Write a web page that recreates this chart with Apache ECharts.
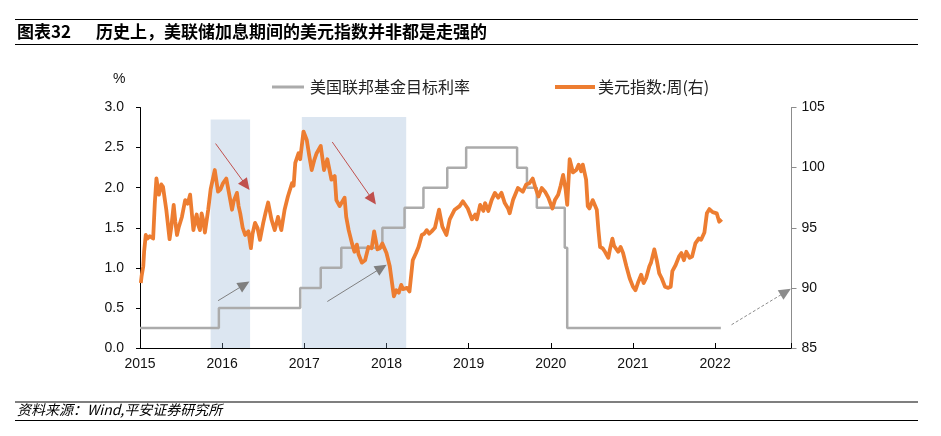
<!DOCTYPE html>
<html>
<head>
<meta charset="utf-8">
<script src="https://cdn.jsdelivr.net/npm/echarts@6/dist/echarts.min.js"></script>
<style>
  html, body { margin: 0; padding: 0; background: #fff; }
  #box { width: 941px; height: 436px; }
</style>
</head>
<body>
<div id="box"></div>
<script>
// 美国联邦基金目标利率(上限)，[年份(小数), %]
const fedRate = [
  [2015.00, 0.25], [2015.96, 0.5], [2016.95, 0.75], [2017.20, 1.0],
  [2017.45, 1.25], [2017.95, 1.5], [2018.22, 1.75], [2018.45, 2.0],
  [2018.74, 2.25], [2018.97, 2.5], [2019.59, 2.25], [2019.71, 2.0],
  [2019.83, 1.75], [2020.17, 1.25], [2020.20, 0.25], [2022.07, 0.25]
];

// 美元指数:周，[年份(小数), 指数]
const dxy = [
  [2015.01, 90.4], [2015.02, 91.0], [2015.04, 91.8], [2015.05, 93.0], [2015.07, 94.4],
  [2015.09, 94.1], [2015.12, 94.3], [2015.16, 94.1], [2015.18, 97.0], [2015.20, 99.1],
  [2015.23, 97.75], [2015.26, 98.6], [2015.28, 98.4], [2015.32, 96.5], [2015.36, 94.05],
  [2015.38, 95.0], [2015.41, 96.9], [2015.43, 95.5], [2015.45, 94.4], [2015.47, 95.0],
  [2015.51, 95.9], [2015.55, 97.3], [2015.58, 97.0], [2015.61, 97.75], [2015.65, 94.8],
  [2015.67, 95.6], [2015.69, 96.1], [2015.71, 95.2], [2015.73, 94.8], [2015.75, 96.2],
  [2015.77, 95.6], [2015.79, 94.6], [2015.83, 96.5], [2015.86, 98.2], [2015.91, 99.8],
  [2015.95, 98.0], [2015.98, 98.2], [2016.01, 98.7], [2016.05, 99.1], [2016.08, 98.0],
  [2016.12, 96.5], [2016.14, 97.2], [2016.18, 97.9], [2016.20, 96.8], [2016.22, 96.2],
  [2016.25, 95.0], [2016.28, 94.4], [2016.32, 94.7], [2016.35, 93.3], [2016.37, 94.5],
  [2016.40, 95.4], [2016.43, 95.0], [2016.46, 94.0], [2016.50, 95.4], [2016.53, 96.3],
  [2016.56, 97.1], [2016.60, 95.7], [2016.64, 94.8], [2016.68, 95.9], [2016.72, 94.8],
  [2016.76, 96.5], [2016.80, 97.6], [2016.85, 98.7], [2016.87, 98.5], [2016.89, 100.4],
  [2016.93, 101.2], [2016.95, 100.7], [2016.99, 103.0], [2017.03, 102.3], [2017.06, 101.0],
  [2017.09, 99.8], [2017.12, 100.6], [2017.15, 101.2], [2017.20, 101.8], [2017.24, 99.8],
  [2017.28, 100.7], [2017.33, 99.0], [2017.37, 99.3], [2017.39, 97.3], [2017.43, 96.8],
  [2017.49, 97.5], [2017.51, 95.9], [2017.54, 94.8], [2017.58, 93.7], [2017.61, 93.0],
  [2017.64, 93.6], [2017.66, 92.8], [2017.70, 92.1], [2017.74, 92.3], [2017.78, 93.4],
  [2017.82, 93.3], [2017.85, 94.7], [2017.89, 93.2], [2017.92, 93.3], [2017.95, 93.7],
  [2018.00, 92.9], [2018.04, 91.8], [2018.07, 90.3], [2018.09, 89.3], [2018.12, 89.8],
  [2018.15, 89.6], [2018.18, 90.25], [2018.20, 89.9], [2018.22, 89.8], [2018.25, 90.0],
  [2018.28, 89.7], [2018.32, 92.3], [2018.36, 92.9], [2018.39, 93.4], [2018.43, 94.4],
  [2018.46, 94.5], [2018.49, 94.8], [2018.52, 94.5], [2018.55, 94.7], [2018.59, 95.0],
  [2018.64, 96.5], [2018.68, 95.1], [2018.73, 94.4], [2018.77, 95.7], [2018.83, 96.5],
  [2018.89, 96.8], [2018.93, 97.2], [2018.95, 97.3], [2018.99, 96.6], [2019.04, 95.7],
  [2019.08, 96.1], [2019.10, 95.7], [2019.14, 96.9], [2019.18, 96.4], [2019.20, 97.05],
  [2019.24, 96.4], [2019.28, 97.3], [2019.32, 97.9], [2019.36, 97.5], [2019.40, 97.9],
  [2019.44, 97.05], [2019.48, 96.6], [2019.50, 96.2], [2019.54, 97.3], [2019.60, 98.3],
  [2019.66, 98.0], [2019.70, 98.6], [2019.74, 98.7], [2019.78, 99.1], [2019.81, 98.4],
  [2019.85, 97.6], [2019.89, 98.3], [2019.93, 98.0], [2019.97, 97.5], [2020.02, 96.6],
  [2020.05, 97.3], [2020.09, 97.75], [2020.12, 98.5], [2020.15, 99.4], [2020.18, 98.2],
  [2020.20, 96.9], [2020.23, 100.7], [2020.27, 99.6], [2020.31, 99.8], [2020.34, 100.25],
  [2020.37, 99.7], [2020.39, 100.25], [2020.43, 99.0], [2020.45, 96.8], [2020.47, 96.6],
  [2020.51, 97.3], [2020.56, 96.5], [2020.58, 94.8], [2020.60, 93.4], [2020.63, 93.3],
  [2020.66, 93.0], [2020.70, 92.5], [2020.72, 93.2], [2020.75, 94.1], [2020.77, 93.5],
  [2020.79, 93.6], [2020.82, 93.0], [2020.85, 93.4], [2020.88, 92.9], [2020.92, 91.8],
  [2020.96, 90.8], [2021.00, 90.1], [2021.03, 89.8], [2021.06, 90.4], [2021.10, 91.1],
  [2021.13, 90.4], [2021.16, 90.8], [2021.20, 91.8], [2021.22, 92.1], [2021.26, 93.2],
  [2021.29, 92.3], [2021.32, 91.2], [2021.35, 90.8], [2021.39, 90.1], [2021.43, 90.0],
  [2021.46, 90.1], [2021.48, 91.4], [2021.52, 91.9], [2021.56, 92.6], [2021.59, 92.9],
  [2021.62, 92.3], [2021.65, 93.0], [2021.69, 92.5], [2021.72, 92.6], [2021.76, 93.7],
  [2021.80, 94.1], [2021.83, 94.0], [2021.87, 94.6], [2021.90, 96.2], [2021.93, 96.55],
  [2021.97, 96.3], [2022.02, 96.2], [2022.05, 95.5], [2022.08, 95.7]
];

// 加息阶段阴影 [起, 止, 顶(左轴)]
const hikePeriods = [
  [2015.86, 2016.34, 2.85],
  [2016.97, 2018.24, 2.88]
];

// 箭头 [起点年份, 起点值, 终点年份, 终点值]（左轴单位）
const redArrows = [
  [2015.92, 2.55, 2016.29, 2.03],
  [2017.34, 2.57, 2017.83, 1.85]
];
const grayArrows = [
  [2015.95, 0.59, 2016.27, 0.79],
  [2017.28, 0.58, 2017.94, 1.0]
];
const dashArrows = [
  [2022.20, 0.29, 2022.86, 0.70]
];

const yearTicks = ["2015", "2016", "2017", "2018", "2019", "2020", "2021", "2022"];

const FONT = "Liberation Sans, Arial, Noto Sans CJK SC, sans-serif";

function arrowData(list, color, type) {
  return list.map(function (a) {
    return [
      { coord: [a[0], a[1]], lineStyle: { color: color, width: 1, type: type }, itemStyle: { color: color } },
      { coord: [a[2], a[3]] }
    ];
  });
}

var myChart = echarts.init(document.getElementById("box"));

myChart.setOption({
  animation: false,
  textStyle: { fontFamily: FONT },
  grid: { left: 140, right: 149.5, top: 107.5, bottom: 88 },
  legend: [
    {
      data: [{ name: "美国联邦基金目标利率", icon: "rect" }],
      left: 267, top: 74,
      itemWidth: 32, itemHeight: 3, itemGap: 6,
      textStyle: { fontSize: 16, color: "#222", fontFamily: "Noto Sans CJK SC", padding: [0, 0, 0, 1] }
    },
    {
      data: [{ name: "美元指数:周(右)", icon: "rect" }],
      left: 550, top: 74,
      itemWidth: 40, itemHeight: 4,
      textStyle: { fontSize: 16, color: "#222", fontFamily: "Noto Sans CJK SC", padding: [0, 0, 0, -2] }
    }
  ],
  xAxis: {
    type: "value",
    min: 2015, max: 2022.93, interval: 1,
    splitLine: { show: false },
    axisLine: { show: true, lineStyle: { color: "#000", width: 1 } },
    axisTick: { show: true, inside: true, length: 5, lineStyle: { color: "#000" } },
    axisLabel: {
      fontSize: 14, color: "#111", margin: 9,
      formatter: function (v) {
        var i = Math.round(v) - 2015;
        return yearTicks[i] !== undefined && Math.abs(v - Math.round(v)) < 1e-6 ? yearTicks[i] : "";
      }
    }
  },
  yAxis: [
    {
      type: "value", min: 0, max: 3, interval: 0.5,
      splitLine: { show: false },
      axisLine: { show: true, lineStyle: { color: "#000" } },
      axisTick: { show: true, length: 4, lineStyle: { color: "#000" } },
      axisLabel: { fontSize: 14, color: "#111", margin: 16, formatter: function (v) { return v.toFixed(1); } }
    },
    {
      type: "value", min: 85, max: 105, interval: 5, position: "right",
      splitLine: { show: false },
      axisLine: { show: true, lineStyle: { color: "#8c8c8c" } },
      axisTick: { show: true, length: 5, lineStyle: { color: "#8c8c8c" } },
      axisLabel: { fontSize: 14, color: "#111", margin: 10 }
    }
  ],
  series: [
    {
      name: "美国联邦基金目标利率",
      type: "line",
      step: "end",
      yAxisIndex: 0,
      data: fedRate,
      symbol: "none",
      z: 2,
      lineStyle: { color: "#ababab", width: 2.5 },
      itemStyle: { color: "#ababab" }
    },
    {
      name: "美元指数:周(右)",
      type: "line",
      yAxisIndex: 1,
      data: dxy,
      symbol: "none",
      z: 3,
      lineStyle: { color: "#ed7d31", width: 3.8, join: "round" },
      itemStyle: { color: "#ed7d31" }
    },
    {
      // 加息阶段阴影（半透明盖在线上）
      type: "line",
      yAxisIndex: 0,
      data: [],
      z: 5,
      silent: true,
      markArea: {
        silent: true,
        itemStyle: { color: "rgba(140,172,210,0.3)" },
        data: hikePeriods.map(function (p) {
          return [{ coord: [p[0], 0] }, { coord: [p[1], p[2]] }];
        })
      }
    },
    {
      // 箭头
      type: "line",
      yAxisIndex: 0,
      data: [],
      z: 6,
      silent: true,
      markLine: {
        silent: true,
        symbol: ["none", "triangle"],
        symbolSize: [11, 12],
        label: { show: false },
        emphasis: { disabled: true },
        data: []
          .concat(arrowData(redArrows, "#c0504d", "solid"))
          .concat(arrowData(grayArrows, "#7f7f7f", "solid"))
          .concat(arrowData(dashArrows, "#8c8c8c", [3, 2]))
      }
    }
  ],
  graphic: [
    { type: "line", shape: { x1: 15, y1: 19.5, x2: 918, y2: 19.5 }, style: { stroke: "#000", lineWidth: 1.2 } },
    { type: "line", shape: { x1: 15, y1: 44.5, x2: 918, y2: 44.5 }, style: { stroke: "#000", lineWidth: 1.2 } },
    {
      type: "text", left: 17, top: 23,
      style: { text: "图表32", font: "bold 17px Noto Sans CJK SC", fill: "#000" }
    },
    {
      type: "text", left: 96, top: 23,
      style: { text: "历史上，美联储加息期间的美元指数并非都是走强的", font: "bold 17px Noto Sans CJK SC", fill: "#000" }
    },
    {
      type: "text", left: 113, top: 72,
      style: { text: "%", font: "14px Liberation Sans", fill: "#111" }
    },
    { type: "line", shape: { x1: 15, y1: 402, x2: 918, y2: 402 }, style: { stroke: "#000", lineWidth: 1.2 } },
    { type: "line", shape: { x1: 15, y1: 420.5, x2: 918, y2: 420.5 }, style: { stroke: "#000", lineWidth: 1.2 } },
    {
      type: "text", left: 17, top: 403,
      style: { text: "资料来源：Wind,平安证券研究所", font: "italic 14px Noto Sans CJK SC", fill: "#000" }
    }
  ]
});
</script>
</body>
</html>
